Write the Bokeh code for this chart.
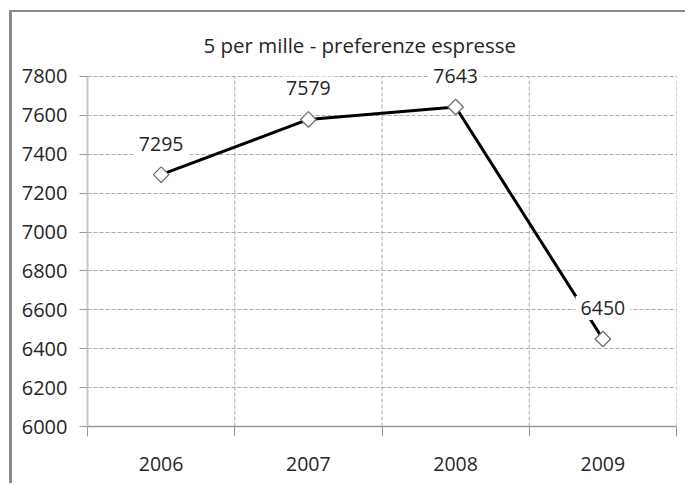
from bokeh.plotting import figure
from bokeh.models import Range1d, FixedTicker, Label
from bokeh.embed import file_html
from bokeh.resources import INLINE
import math

years = ["2006", "2007", "2008", "2009"]
values = [7295, 7579, 7643, 6450]
y_ticks = [6000, 6200, 6400, 6600, 6800, 7000, 7200, 7400, 7600, 7800]
title_text = "5 per mille - preferenze  espresse"

xs = [i + 0.5 for i in range(len(years))]
bounds_x = list(range(1, len(years) + 1))
FONT = "Open Sans"
TXT = "#262626"
GRID = "#aaaaaa"
y_lo, y_hi = y_ticks[0], y_ticks[-1]

p = figure(width=676, height=473, output_backend="svg", toolbar_location=None,
           x_range=Range1d(0, len(years)), y_range=Range1d(y_lo, y_hi + 82),
           min_border_left=75, min_border_right=12, min_border_top=48, min_border_bottom=59)
# outer chart frame (cropped at right/bottom as in the reference)
p.styles = {"border-top": "2px solid #8a8a8a", "border-left": "3px solid #8a8a8a",
            "margin-left": "9px", "margin-top": "10px"}
p.outline_line_color = None
p.background_fill_color = "white"
p.border_fill_color = "white"

p.title.text = title_text
p.title.align = "left"
p.title.offset = 116
p.title.text_font = FONT
p.title.text_font_size = "20.5px"
p.title.text_font_style = "normal"
p.title.text_color = TXT
p.title.standoff = 3

# y axis
p.yaxis.ticker = FixedTicker(ticks=y_ticks)
p.yaxis.bounds = (y_lo, y_hi)
p.yaxis.axis_line_color = "#c8c8c8"
p.yaxis.axis_line_width = 2
p.yaxis.major_tick_line_color = "#9a9a9a"
p.yaxis.major_tick_out = 8
p.yaxis.major_tick_in = 0
p.yaxis.minor_tick_line_color = None
p.yaxis.major_label_standoff = 12
p.yaxis.major_label_text_font = FONT
p.yaxis.major_label_text_font_size = "20px"
p.yaxis.major_label_text_color = TXT

# x axis: labels at category centres, ticks at boundaries
p.xaxis.ticker = FixedTicker(ticks=xs, minor_ticks=list(range(len(years) + 1)))
p.xaxis.major_label_overrides = {x: y for x, y in zip(xs, years)}
p.xaxis.major_tick_line_color = None
p.xaxis.major_tick_out = 0
p.xaxis.minor_tick_line_color = "#9a9a9a"
p.xaxis.minor_tick_out = 10
p.xaxis.minor_tick_in = 0
p.xaxis.axis_line_color = "#9a9a9a"
p.xaxis.axis_line_width = 1.5
p.xaxis.major_label_standoff = 20
p.xaxis.major_label_text_font = FONT
p.xaxis.major_label_text_font_size = "19.5px"
p.xaxis.major_label_text_color = TXT

# grids
p.ygrid.ticker = FixedTicker(ticks=y_ticks[1:])
p.ygrid.grid_line_color = GRID
p.ygrid.grid_line_dash = "4 2"
p.ygrid.grid_line_width = 1
p.xgrid.visible = False
p.segment(x0=bounds_x, y0=[y_lo] * len(bounds_x), x1=bounds_x, y1=[y_hi] * len(bounds_x),
          line_color=GRID, line_dash="4 2", line_width=1)

p.line(xs, values, line_color="black", line_width=3)
p.scatter(xs, values, marker="square", size=11, angle=math.pi / 4,
          fill_color="white", line_color="#707070", line_width=1.3)

for x, v in zip(xs, values):
    p.add_layout(Label(x=x, y=v, text=str(v), y_offset=31, text_align="center",
                       text_baseline="middle", text_font=FONT, text_font_size="19.5px",
                       text_color=TXT, background_fill_color="white", padding=5))

open("out.html", "w").write(file_html(p, INLINE))
